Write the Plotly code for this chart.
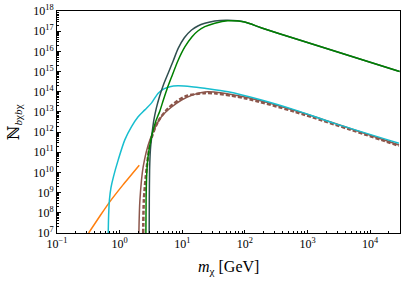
import plotly.graph_objects as go

# masses in GeV, N values
orange_m = [0.32, 0.50, 0.70, 1.14, 2.06]
orange_n = [1.0e7, 8.0e7, 3.6e8, 2.5e9, 2.3e10]

cyan_m = [0.658, 0.668, 0.6875, 0.7264, 0.7963, 0.95, 1.21, 1.55, 1.96, 2.53, 3.24, 4.13, 5.09, 6.34, 8.51, 14.1, 22.9, 54, 184, 625, 2700, 28800]
cyan_n = [1e7, 7.96e7, 4.41e8, 1.73e9, 6.06e9, 4.2e10, 4.1e11, 1.86e12, 5.6e12, 1.26e13, 2.8e13, 8.5e13, 1.38e14, 1.78e14, 1.95e14, 1.78e14, 1.48e14, 1.0e14, 3.9e13, 1.26e13, 2.7e12, 2.8e11]

dark_m = [2.966, 2.977, 3.010, 3.099, 3.275, 3.524, 3.864, 4.313, 4.995, 5.959, 7.160, 8.604, 10.80, 14.07, 17.74, 22.93, 33.11, 53.38, 99.6, 186, 625, 29550]
dark_n = [1e7, 4.41e8, 1.35e10, 1.32e11, 7.27e11, 4.02e12, 1.58e13, 5.53e13, 2.17e14, 8.24e14, 3.35e15, 1.40e16, 4.75e16, 1.15e17, 1.81e17, 2.46e17, 3.20e17, 3.47e17, 2.85e17, 1.44e17, 4.35e16, 1.01e15]

green_m = [2.628, 2.647, 2.706, 2.828, 3.043, 3.336, 3.793, 4.392, 4.995, 5.785, 6.752, 8.507, 11.00, 14.23, 17.74, 22.93, 33.11, 53.38, 99.6, 186, 625, 29550]
green_n = [1e7, 4.41e8, 7.60e9, 5.28e10, 2.32e11, 9.12e11, 3.58e12, 1.12e13, 3.93e13, 1.54e14, 5.40e14, 3.35e15, 1.65e16, 5.16e16, 1.02e17, 1.67e17, 2.49e17, 3.27e17, 2.85e17, 1.44e17, 4.35e16, 1.01e15]

brown_m = [2.03, 2.11, 2.38, 3.04, 4.68, 9.75, 22.9, 99.5, 625, 28800]
brown_n = [1e7, 4.4e8, 1.95e10, 4.1e11, 5.9e12, 3.9e13, 9.8e13, 5.5e13, 1.17e13, 2.3e11]

brownd_m = [2.38, 2.44, 2.72, 3.16, 4.08, 5.96, 11.0, 22.9, 33.1, 99.5, 625, 28800]
brownd_n = [1e7, 4.4e8, 1.95e10, 4.1e11, 3.2e12, 1.5e13, 5.75e13, 8.5e13, 8.3e13, 4.8e13, 1.02e13, 2.1e11]

x_ticks = [0.1, 1, 10, 100, 1000, 10000]
x_labels = ["10<sup>−1</sup>", "10<sup>0</sup>", "10<sup>1</sup>", "10<sup>2</sup>", "10<sup>3</sup>", "10<sup>4</sup>"]
y_ticks = [10.0 ** k for k in range(7, 19)]
y_labels = ["10<sup>%d</sup>" % k for k in range(7, 19)]

x_range = [-1, 4.477]
y_range = [7, 18]

fig = go.Figure()
def add(x, y, color, width, dash=None, smooth=0.6):
    fig.add_trace(go.Scatter(x=x, y=y, mode="lines",
                             line=dict(color=color, width=width, dash=dash, shape="spline", smoothing=smooth)))

add(orange_m, orange_n, "#ff7f0e", 1.5)
add(brown_m, brown_n, "#8c564b", 1.5, smooth=0.8)
add(brownd_m, brownd_n, "#8c564b", 2.5, "4px,2px", smooth=0.8)
add(cyan_m, cyan_n, "#17becf", 1.5, smooth=0.8)
add(dark_m, dark_n, "#2f4f4f", 1.5)
add(green_m, green_n, "green", 1.5)

font = "Liberation Serif, DejaVu Serif, serif"
fig.update_layout(
    width=407, height=282,
    margin=dict(l=57, r=7, t=11, b=49),
    plot_bgcolor="white", paper_bgcolor="white",
    showlegend=False,
    font=dict(family=font, size=12, color="black"),
)
axis_common = dict(
    type="log", showline=True, linecolor="black", linewidth=1, mirror=True,
    ticks="inside", ticklen=3.5, tickcolor="black", showgrid=False, zeroline=False,
    minor=dict(ticks="inside", ticklen=2, tickcolor="black", dtick="D1", showgrid=False),
    tickfont=dict(size=12), automargin=False,
)
fig.update_xaxes(range=x_range, tickmode="array", tickvals=x_ticks, ticktext=x_labels, **axis_common)
fig.update_yaxes(range=y_range, tickmode="array", tickvals=y_ticks, ticktext=y_labels, **axis_common)

fig.add_annotation(text="<i>m</i><sub>χ</sub> [GeV]", xref="paper", yref="paper",
                   x=0.5, y=-0.155, xanchor="center", yanchor="middle",
                   showarrow=False, font=dict(size=16, family=font))
fig.add_annotation(text="ℕ<sub><i>b</i>χ<i>b</i>χ</sub>", xref="paper", yref="paper",
                   x=-0.125, y=0.5, xanchor="center", yanchor="middle", textangle=-90,
                   showarrow=False, font=dict(size=16, family=font))
fig.write_html("out.html", config={"displayModeBar": False},
               post_script="document.body.style.margin='0';document.body.style.padding='0';")
